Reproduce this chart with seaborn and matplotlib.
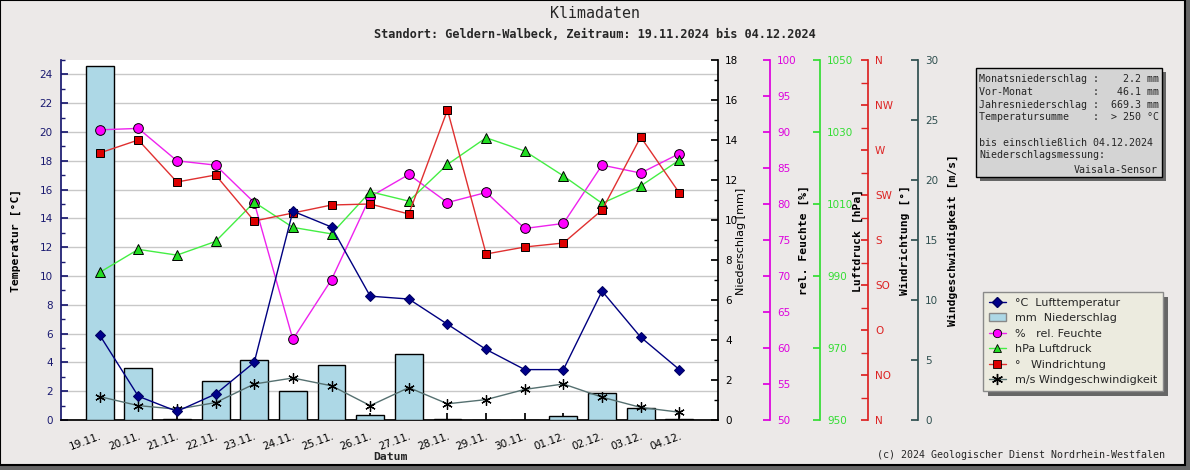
import numpy as np
import pandas as pd
import matplotlib
matplotlib.use("Agg")
import matplotlib.pyplot as plt
import seaborn as sns
from matplotlib.patches import Rectangle, Patch
from matplotlib.lines import Line2D
from matplotlib.ticker import MultipleLocator, FixedLocator

# ---------------- data ----------------
dates = ["19.11.", "20.11.", "21.11.", "22.11.", "23.11.", "24.11.", "25.11.", "26.11.",
         "27.11.", "28.11.", "29.11.", "30.11.", "01.12.", "02.12.", "03.12.", "04.12."]
temperature = [5.9, 1.65, 0.6, 1.8, 4.0, 14.5, 13.4, 8.6, 8.4, 6.65, 4.9, 3.5, 3.5, 8.95, 5.75, 3.5]
precipitation = [17.7, 2.6, 0.05, 1.95, 3.0, 1.45, 2.75, 0.25, 3.3, 0.05, 0.0, 0.0, 0.2, 1.35, 0.6, 0.05]
humidity = [90.3, 90.5, 86.0, 85.4, 80.2, 61.2, 69.5, 81.0, 84.1, 80.2, 81.6, 76.6, 77.3, 85.4, 84.3, 87.0]
pressure = [991.0, 997.4, 995.8, 999.6, 1010.5, 1003.5, 1001.7, 1013.4, 1010.8, 1021.0,
            1028.4, 1024.7, 1017.8, 1010.2, 1015.0, 1022.2]
wind_dir = [267, 280, 238, 245, 199, 207, 215, 216, 206, 310, 166, 173, 177, 210, 283, 227]
wind_speed = [1.95, 1.2, 0.9, 1.45, 3.0, 3.5, 2.85, 1.2, 2.7, 1.35, 1.7, 2.55, 3.0, 1.9, 1.05, 0.65]
pres_ticks = [950, 970, 990, 1010, 1030, 1050]
wd_ticks = [0, 45, 90, 135, 180, 225, 270, 315, 360]
wd_labels = ["N", "NO", "O", "SO", "S", "SW", "W", "NW", "N"]
legend_labels = ["°C  Lufttemperatur", "mm  Niederschlag", "%   rel. Feuchte",
                 "hPa Luftdruck", "°   Windrichtung", "m/s Windgeschwindigkeit"]
info_lines = ["Monatsniederschlag :    2.2 mm",
              "Vor-Monat          :   46.1 mm",
              "Jahresniederschlag :  669.3 mm",
              "Temperatursumme    :  > 250 °C",
              "",
              "bis einschließlich 04.12.2024",
              "Niederschlagsmessung:"]
info_last = "Vaisala-Sensor"

df = pd.DataFrame({"idx": np.arange(len(dates)), "date": dates, "temp": temperature,
                   "precip": precipitation, "hum": humidity, "pres": pressure,
                   "wdir": wind_dir, "wspd": wind_speed})

sns.set_theme(style="white")
plt.rcParams["font.family"] = ["DejaVu Sans"]
MONO = "DejaVu Sans Mono"

W, H = 1190, 470
def fx(x): return x / W
def fy(y): return 1 - y / H

BG = "#ece9e8"
fig = plt.figure(figsize=(W / 100, H / 100), dpi=100)
fig.patch.set_facecolor("#666666")
fig.add_artist(Rectangle((0, fy(465)), fx(1185), 465 / H, transform=fig.transFigure,
                         facecolor=BG, edgecolor="black", linewidth=1.5, zorder=-10))

# axes area
x0, x1, y0, y1 = 61, 718, 60, 420
ax = fig.add_axes([fx(x0), fy(y1), fx(x1) - fx(x0), fy(y0) - fy(y1)])
ax.set_facecolor("white")
ax.set_xlim(-1, 16)
ax.set_ylim(0, 25)
ax.yaxis.set_major_locator(FixedLocator(np.arange(0, 25, 2)))
ax.yaxis.set_minor_locator(MultipleLocator(1))
ax.grid(axis="y", which="major", color="#c8c8c8", linewidth=1)
ax.set_axisbelow(True)
for s in ["top", "right"]:
    ax.spines[s].set_visible(False)
ax.spines["left"].set_color("#191970")
ax.spines["bottom"].set_color("black")
ax.tick_params(axis="y", which="both", direction="in", colors="#191970", labelsize=7.5,
               left=True, pad=6)
ax.tick_params(axis="y", which="major", length=5)
ax.tick_params(axis="y", which="minor", length=3)

def frac(x):
    return (x - x0) / (x1 - x0)

def make_right(color, pos, lim):
    a = ax.twinx()
    a.set_ylim(*lim)
    for s in ["top", "left", "bottom"]:
        a.spines[s].set_visible(False)
    a.spines["right"].set_color(color)
    if pos is not None:
        a.spines["right"].set_position(("axes", pos))
    a.tick_params(axis="y", which="both", direction="in", colors=color, labelsize=7.5,
                  right=True, pad=5)
    a.tick_params(axis="y", which="major", length=5)
    a.tick_params(axis="y", which="minor", length=3)
    return a

# precipitation bars
ax_p = make_right("black", None, (0, 18))
sns.barplot(data=df, x="date", y="precip", ax=ax_p, color="#add8e6", edgecolor="black",
            linewidth=1, width=0.72, saturation=1)
ax_p.set_ylim(0, 18)
ax_p.yaxis.set_major_locator(MultipleLocator(2))
ax_p.yaxis.set_minor_locator(MultipleLocator(1))

# humidity
ax_h = make_right("#dd00dd", frac(770), (50, 100))
sns.lineplot(data=df, x="idx", y="hum", ax=ax_h, color="#ee22ee", linewidth=1,
             marker="o", markersize=7, markerfacecolor="#ff00ff", markeredgecolor="black",
             markeredgewidth=0.7, legend=False)
ax_h.set_ylim(50, 100)
ax_h.yaxis.set_major_locator(MultipleLocator(5))

# pressure
ax_pr = make_right("#33dd33", frac(820), (950, 1050))
sns.lineplot(data=df, x="idx", y="pres", ax=ax_pr, color="#44ee44", linewidth=1,
             marker="^", markersize=7, markerfacecolor="#22dd22", markeredgecolor="black",
             markeredgewidth=0.7, legend=False)
ax_pr.set_ylim(950, 1050)
ax_pr.yaxis.set_major_locator(FixedLocator(pres_ticks))

# wind direction
ax_wd = make_right("#dd2222", frac(868), (0, 360))
sns.lineplot(data=df, x="idx", y="wdir", ax=ax_wd, color="#e03030", linewidth=1,
             marker="s", markersize=6, markerfacecolor="#dd0000", markeredgecolor="black",
             markeredgewidth=0.7, legend=False)
ax_wd.set_ylim(0, 360)
ax_wd.yaxis.set_major_locator(FixedLocator(wd_ticks))
ax_wd.set_yticklabels(wd_labels)
ax_wd.yaxis.set_minor_locator(FixedLocator(np.arange(22.5, 360, 45)))
ax_wd.tick_params(axis="y", which="minor", length=5)

# wind speed
ax_ws = make_right("#2f4f4f", frac(918), (0, 30))
sns.lineplot(data=df, x="idx", y="wspd", ax=ax_ws, color="#557070", linewidth=1,
             marker=(6, 2, 0), markersize=7.5, markeredgecolor="black",
             markeredgewidth=0.9, legend=False)
ax_ws.set_ylim(0, 30)
ax_ws.yaxis.set_major_locator(MultipleLocator(5))

# temperature (same scale as left axis, drawn on top)
ax_t = ax.twinx()
ax_t.set_ylim(0, 25)
for s in ax_t.spines.values():
    s.set_visible(False)
ax_t.tick_params(axis="y", right=False, labelright=False)
sns.lineplot(data=df, x="idx", y="temp", ax=ax_t, color="#000080", linewidth=1,
             marker="D", markersize=5.5, markerfacecolor="#00008b", markeredgecolor="#000060",
             legend=False)
ax_t.set_ylim(0, 25)

for a in [ax, ax_p, ax_h, ax_pr, ax_wd, ax_ws, ax_t]:
    a.set_xlabel("")
    a.set_ylabel("")

ax.set_xlim(-1, 16)
ax.set_xticks(np.arange(len(dates)))
ax.set_xticklabels(dates, rotation=20, ha="right", va="top", rotation_mode="anchor",
                   fontsize=7.5)
ax.tick_params(axis="x", direction="in", length=5, colors="black", pad=8, bottom=True)

# axis labels
lab = dict(rotation=90, ha="center", va="center", color="black")
fig.text(fx(16), fy(240), "Temperatur [°C]", family=MONO, weight="bold", fontsize=8.2, **lab)
fig.text(fx(741), fy(241), "Niederschlag [mm]", fontsize=8, **lab)
fig.text(fx(804), fy(240), "rel. Feuchte [%]", family=MONO, weight="bold", fontsize=8.2, **lab)
fig.text(fx(858), fy(240), "Luftdruck [hPa]", family=MONO, weight="bold", fontsize=8.2, **lab)
fig.text(fx(905), fy(240), "Windrichtung [°]", family=MONO, weight="bold", fontsize=8.2, **lab)
fig.text(fx(953), fy(240), "Windgeschwindigkeit [m/s]", family=MONO, weight="bold",
         fontsize=8.2, **lab)
fig.text(fx(390), fy(457), "Datum", family=MONO, weight="bold", fontsize=8.2,
         ha="center", va="center")

# titles
fig.text(0.5, fy(14), "Klimadaten", family=MONO, fontsize=10.8, ha="center", va="center")
fig.text(fx(595), fy(34), "Standort: Geldern-Walbeck, Zeitraum: 19.11.2024 bis 04.12.2024",
         family=MONO, weight="bold", fontsize=8.6, ha="center", va="center")
fig.text(fx(1165), fy(455), "(c) 2024 Geologischer Dienst Nordrhein-Westfalen",
         family=MONO, fontsize=7.2, ha="right", va="center")

# info box
fig.add_artist(Rectangle((fx(980), fy(181)), fx(1166) - fx(980), (181 - 72) / H,
                         transform=fig.transFigure, facecolor="#666666", edgecolor="none",
                         zorder=1))
fig.add_artist(Rectangle((fx(976), fy(177)), fx(1162) - fx(976), (177 - 68) / H,
                         transform=fig.transFigure, facecolor="#d4d4d4", edgecolor="black",
                         linewidth=1, zorder=2))
ys = [79, 92, 105, 117, 130, 143, 155]
for t, yy in zip(info_lines, ys):
    fig.text(fx(979), fy(yy), t, family=MONO, fontsize=7.2, ha="left", va="center", zorder=3)
fig.text(fx(1158), fy(170), info_last, family=MONO, fontsize=7.2, ha="right", va="center",
         zorder=3)

# legend
handles = [
    Line2D([], [], color="#000080", marker="D", markersize=5, markerfacecolor="#00008b",
           markeredgecolor="#000060", linewidth=1),
    Patch(facecolor="#add8e6", edgecolor="#888888"),
    Line2D([], [], color="#ee22ee", marker="o", markersize=6, markerfacecolor="#ff00ff",
           markeredgecolor="black", markeredgewidth=0.6, linewidth=1),
    Line2D([], [], color="#44ee44", marker="^", markersize=6, markerfacecolor="#22dd22",
           markeredgecolor="black", markeredgewidth=0.6, linewidth=1),
    Line2D([], [], color="#e03030", marker="s", markersize=6, markerfacecolor="#dd0000",
           markeredgecolor="black", markeredgewidth=0.6, linewidth=1),
    Line2D([], [], color="#557070", marker=(6, 2, 0), markersize=8, markeredgecolor="black",
           linewidth=1),
]
leg = fig.legend(handles, legend_labels, loc="upper left",
                 bbox_to_anchor=(fx(983), fy(292)), frameon=True, fancybox=False,
                 edgecolor="#8a8a8a", facecolor="#ecebdf", framealpha=1, fontsize=8,
                 labelspacing=0.5, handlelength=1.6, handletextpad=0.8, borderpad=0.5,
                 borderaxespad=0)
leg.get_frame().set_linewidth(1)
leg.set_zorder(5)
fig.canvas.draw()
bb = leg.get_window_extent()
fig.add_artist(Rectangle(((bb.x0 + 5) / W, (bb.y0 - 5) / H), bb.width / W, bb.height / H,
                         transform=fig.transFigure, facecolor="#666666", edgecolor="none",
                         zorder=4))

fig.savefig("out.png", dpi=100, facecolor=fig.get_facecolor())
